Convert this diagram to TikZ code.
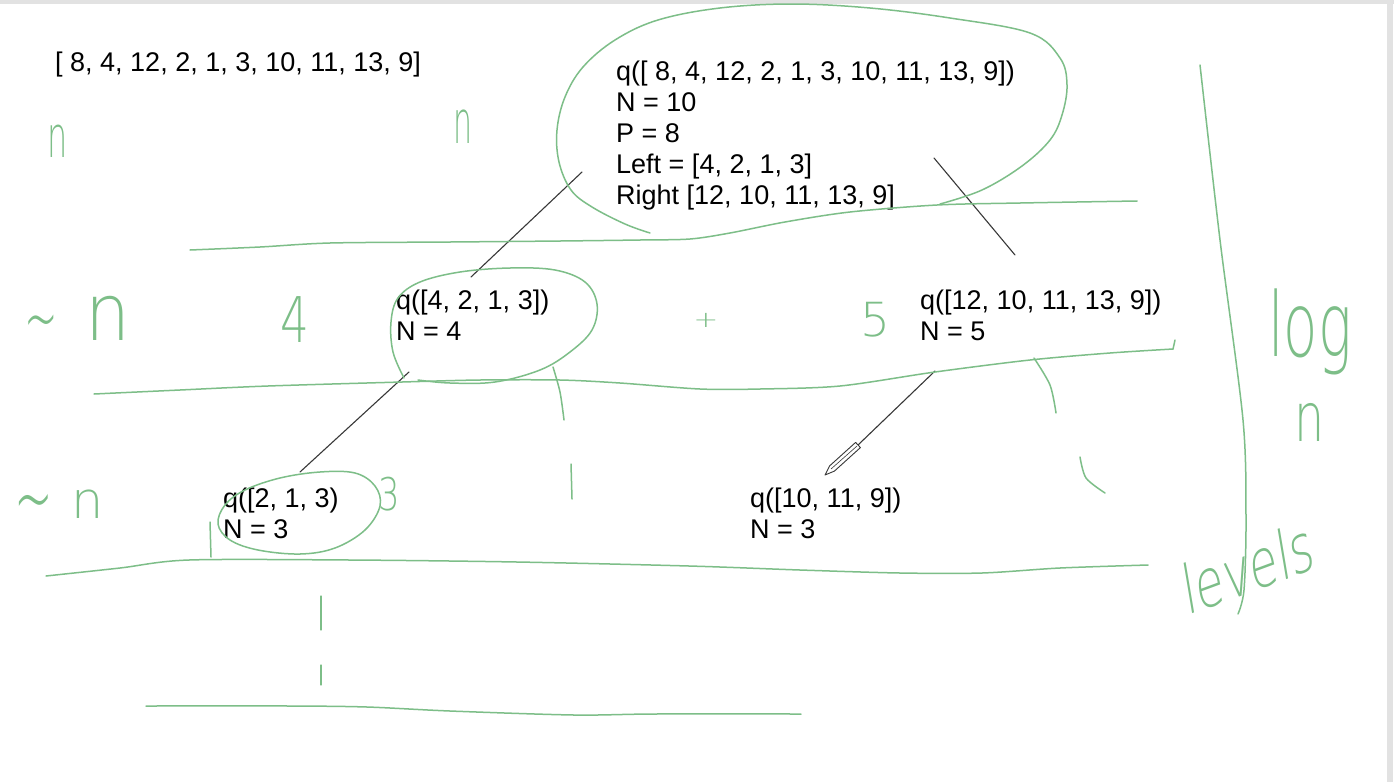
\documentclass[tikz,border=0pt]{standalone}
\usepackage{fontspec}
\setmainfont{Liberation Sans}
\newfontfamily\handfont{DejaVu Sans ExtraLight}
\newcommand\hsz[1]{\handfont\fontsize{#1}{#1}\selectfont}
\definecolor{pen}{HTML}{7DBE88}
\definecolor{ink}{HTML}{383838}
\definecolor{framegray}{HTML}{E2E2E2}
\begin{document}
\begin{tikzpicture}[x=1pt,y=-1pt,
  txt/.style={font=\fontsize{27}{31}\selectfont, align=left, inner sep=0pt, anchor=base west, text=black},
  hand/.style={text=pen, inner sep=0pt},
  stroke/.style={draw=pen, line width=1.5pt, line cap=round, line join=round},
  edge/.style={draw=ink, line width=1.1pt, line cap=round}]
\useasboundingbox (0,0) rectangle (1394,782);
\fill[white] (0,0) rectangle (1394,782);
\fill[framegray] (0,0) rectangle (1394,4);
\fill[framegray] (1387,0) rectangle (1393,782);

% ---------- typed text (anchored at the baseline of the last line) ----------
\node[txt] (arr) at (55,71) {[ 8, 4, 12, 2, 1, 3, 10, 11, 13, 9]};
\node[txt] (root) at (616,204) {q([ 8, 4, 12, 2, 1, 3, 10, 11, 13, 9])\\N = 10\\P = 8\\Left = [4, 2, 1, 3]\\Right [12, 10, 11, 13, 9]};
\node[txt] (l2a) at (396,340) {q([4, 2, 1, 3])\\N = 4};
\node[txt] (l2b) at (920,340) {q([12, 10, 11, 13, 9])\\N = 5};
\node[txt] (l3a) at (223,538) {q([2, 1, 3)\\N = 3};
\node[txt] (l3b) at (750,538) {q([10, 11, 9])\\N = 3};

% ---------- black connectors ----------
\coordinate (e1a) at (582,172); \coordinate (e1b) at (471,277);
\coordinate (e2a) at (934,158); \coordinate (e2b) at (1015,255);
\coordinate (e3a) at (409,372); \coordinate (e3b) at (300,472);
\coordinate (e4a) at (935,371); \coordinate (e4b) at (858,445);
\draw[edge] (e1a) -- (e1b);
\draw[edge] (e2a) -- (e2b);
\draw[edge] (e3a) -- (e3b);
\draw[edge] (e4a) -- (e4b);
% pencil cursor
\draw[ink, line width=0.9pt, line join=round, fill=white]
  (855.6,442.4) -- (860.4,447.6) -- (834.4,471.1) -- (825,475) -- (829.6,465.9) -- cycle;
\draw[ink, line width=0.6pt] (857,446) -- (831,469);

% ---------- green strokes ----------
% root ellipse
\draw[stroke] plot[smooth, tension=.6] coordinates {(650,233) (625,224) (592,207) (571,190) (559,162) (557,130) (565,97) (583,67) (615,40) (658,20) (720,8) (792,4) (870,8) (950,18) (1030,33) (1060,58) (1067,85) (1062,115) (1050,140) (1022,166) (982,190) (940,204)};
% line under root
\draw[stroke] plot[smooth, tension=.5] coordinates {(190,250) (260,247) (330,243) (450,242) (560,241) (640,240) (690,239) (730,233) (785,222) (850,212) (937,205) (1020,203) (1137,201)};
% ellipse level 2
\draw[stroke] plot[smooth, tension=.6] coordinates {(404,378) (393,352) (391,322) (398,298) (420,282) (460,272) (510,268) (555,270) (585,282) (597,304) (592,330) (570,352) (540,370) (495,382) (450,383) (418,380)};
% line under level 2
\draw[stroke] plot[smooth, tension=.5] coordinates {(94,394) (180,390) (268,386) (402,382) (480,380) (560,380) (620,383) (700,389) (760,389) (840,386) (935,372) (1030,360) (1110,353) (1173,349)};
\draw[stroke] (1173,349) -- (1175,340);
% tree strokes
\draw[stroke] plot[smooth] coordinates {(553,367) (560,392) (564,420)};
\draw[stroke] (571,464) -- (572,499);
\draw[stroke] plot[smooth] coordinates {(1034,358) (1050,385) (1056,413)};
\draw[stroke] plot[smooth] coordinates {(1080,457) (1086,478) (1105,493)};
% ellipse level 3
\draw[stroke] plot[smooth cycle, tension=.6] coordinates {(300,554) (258,550) (230,540) (218,524) (225,505) (245,490) (280,478) (320,472) (355,473) (375,486) (380,506) (365,530) (335,548)};
\draw[stroke] (210,522) -- (211,557);
% line under level 3
\draw[stroke] plot[smooth, tension=.5] coordinates {(46,576) (120,568) (189,560) (350,560) (517,562) (689,566) (800,570) (900,573) (982,573) (1060,568) (1148,565)};
% dashed continuation
\draw[stroke, line width=1.2pt] (321,596) -- (321,630);
\draw[stroke, line width=1.2pt] (321,665) -- (321,685);
% bottom line
\draw[stroke] plot[smooth, tension=.5] coordinates {(146,706) (290,706) (367,707) (450,711) (574,715) (654,714) (801,714)};
% long vertical bracket
\draw[stroke] plot[smooth, tension=.5] coordinates {(1200,65) (1220,240) (1243,420) (1246,520) (1244,590) (1238,614)};

% ---------- handwritten annotations (as text) ----------
\node[hand, font=\hsz{58}, xscale=.55] (hn1) at (58,141) {n};
\node[hand, font=\hsz{60}, xscale=.5] (hn2) at (463,127) {n};
\node[hand, font=\hsz{40}, yscale=2] (ht1) at (41,330) {\textasciitilde};
\node[hand, font=\hsz{79}, xscale=.9] (hn3) at (108,318) {n};
\node[hand, font=\hsz{63}, xscale=.72] (h4) at (295,320) {4};
\node[hand, font=\hsz{30}, yscale=.75] (hplus) at (706,320) {+};
\node[hand, font=\hsz{47}] (h5) at (875,320) {5};
\node[hand, font=\hsz{46}, yscale=2] (ht2) at (34,512) {\textasciitilde};
\node[hand, font=\hsz{51}] (hn4) at (88,504) {n};
\node[hand, font=\hsz{45}, xscale=.75] (h3) at (389,494) {3};
\node[hand, font=\hsz{66}, xscale=.85, yscale=1.35, anchor=base] (hlog) at (1310,356) {log};
\node[hand, font=\hsz{68}, xscale=.7] (hn5) at (1310,422) {n};
\node[hand, font=\hsz{44}, xscale=1.05, yscale=1.55, rotate=14, anchor=base] (hlev) at (1252,592) {levels};
\end{tikzpicture}
\end{document}
